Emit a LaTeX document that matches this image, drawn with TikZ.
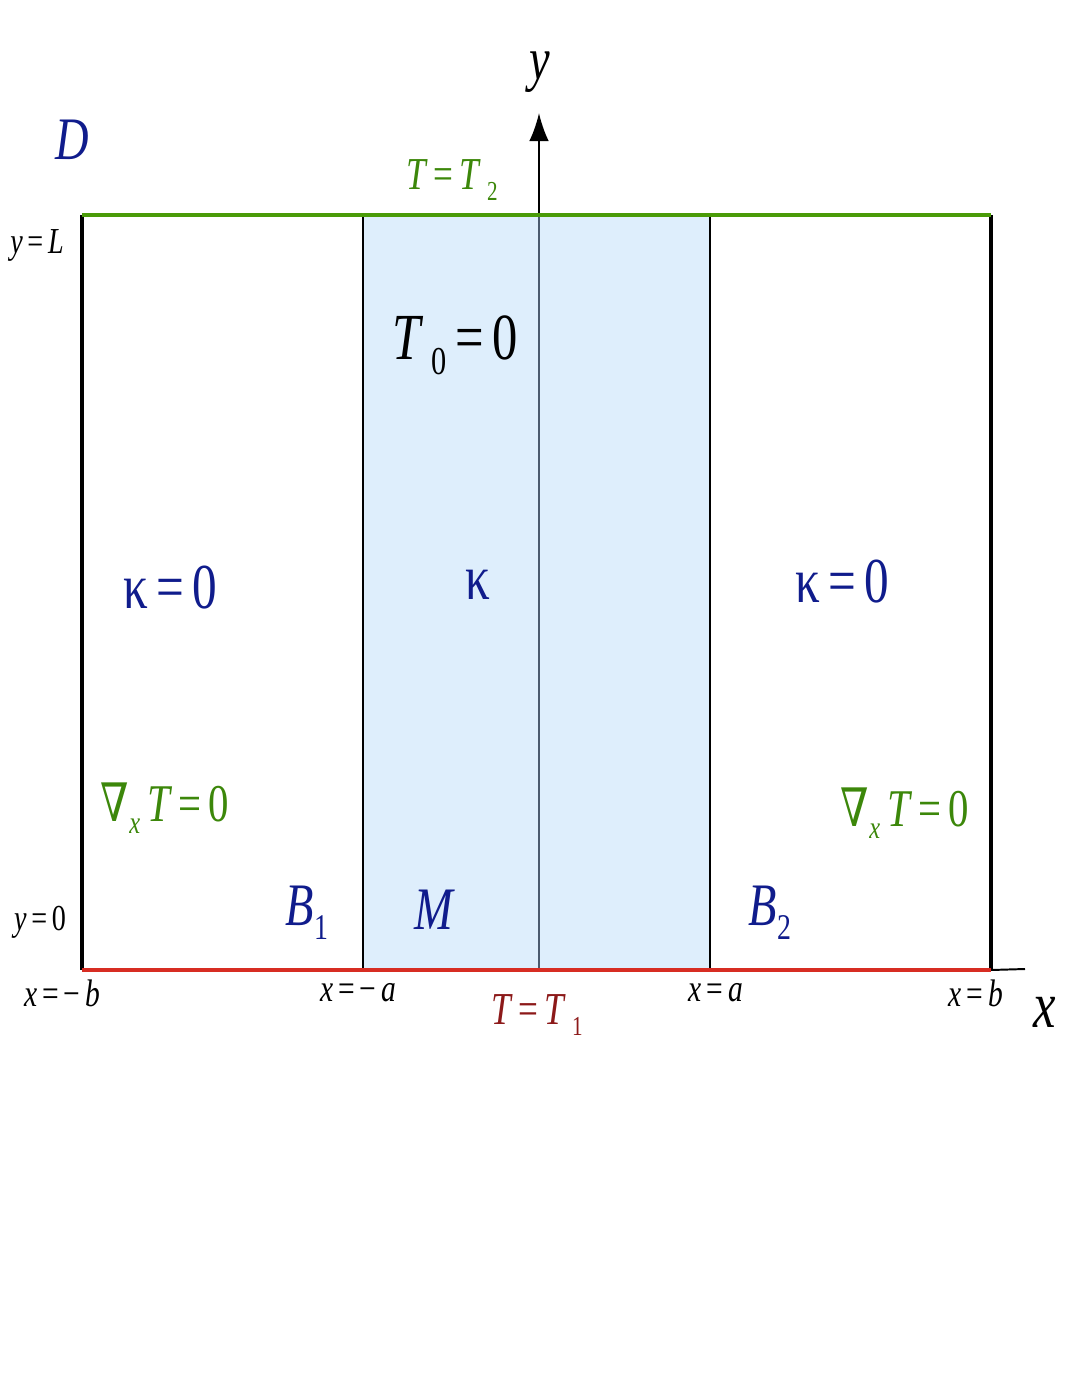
\documentclass[tikz,border=0pt]{standalone}
\usepackage{fontspec}
\usepackage{graphicx}
\newfontfamily\labelfont{Liberation Serif}
\newfontfamily\symfont{DejaVu Serif}
\usetikzlibrary{arrows.meta,positioning}

\definecolor{navy}{RGB}{16,28,140}
\definecolor{leaf}{RGB}{60,135,10}
\definecolor{leafline}{RGB}{74,155,8}
\definecolor{brick}{RGB}{140,25,25}
\definecolor{redline}{RGB}{215,45,35}
\definecolor{paleblue}{RGB}{222,238,252}
\definecolor{slate}{RGB}{75,90,110}

% tall glyphs and low subscripts as in the original drawing
\newcommand{\tall}[1]{\scalebox{1}[1.3]{#1}}
\newcommand{\lowsub}[1]{\raisebox{-0.5ex}{\scalebox{0.6}{#1}}}
\newcommand{\fs}[1]{\fontsize{#1}{#1}\labelfont\selectfont}
\newcommand{\grad}{{\symfont ∇}}

\begin{document}
\begin{tikzpicture}[
  x=0.025cm, y=-0.025cm,
  lbl/.style={inner sep=0pt},
  wall/.style={line width=2.8pt},
  rim/.style={line width=1.4pt},
  edge/.style={line width=2.8pt},
  axisline/.style={line width=1.5pt,-{Latex[length=20pt,width=14pt]}}
]
\useasboundingbox (0,0) rectangle (1080,1397);

% corners
\coordinate (tl) at (82,215);
\coordinate (tr) at (991,215);
\coordinate (bl) at (82,970);
\coordinate (br) at (991,970);
\coordinate (mtl) at (363,215);
\coordinate (mbl) at (363,970);
\coordinate (mtr) at (710,215);
\coordinate (mbr) at (710,970);
\coordinate (o) at (539,970);
\coordinate (otop) at (539,217);
\coordinate (ytip) at (539,113);
\coordinate (xend) at (1025,969);

% medium M
\fill[paleblue] (mtl) rectangle (mbr);
\draw[axisline] (o) -- (ytip);
\draw[slate,line width=1.5pt] (o) -- (otop);
\draw[rim] (mtl) -- (mbl);
\draw[rim] (mtr) -- (mbr);

% walls and boundaries
\draw[wall] (tl) -- (bl);
\draw[wall] (tr) -- (br);
\draw[rim] (br) -- (xend);
\draw[edge,leafline] (tl) -- (tr);
\draw[edge,redline] (bl) -- (br);

% labels
\node[lbl,navy,font=\fs{33}] (dom) at (72,140) {\tall{\textit{D}}};
\node[lbl,font=\fs{33}] (ylab) at (540,72) {\tall{\textit{y}}};
\node[lbl,font=\fs{36}] (xlab) at (1045,1012) {\tall{\textit{x}}};
\node[lbl,leaf,font=\fs{25}] (top) at (452,180) {\tall{\textit{T}\,=\,\textit{T}\,\lowsub{2}}};
\node[lbl,brick,font=\fs{25}] (bot) at (537,1015) {\tall{\textit{T}\,=\,\textit{T}\,\lowsub{1}}};
\node[lbl,font=\fs{20}] (yL) at (37,245) {\tall{\textit{y}\,=\,\textit{L}}};
\node[lbl,font=\fs{20}] (y0) at (40,922) {\tall{\textit{y}\,=\,0}};
\node[lbl,font=\fs{36}] (tzero) at (455,345) {\tall{\textit{T}\,\lowsub{0}\,=\,0}};
\node[lbl,navy,font=\fs{35}] (kl) at (170,588) {\tall{κ\,=\,0}};
\node[lbl,navy,font=\fs{35}] (km) at (478,585) {\tall{κ}};
\node[lbl,navy,font=\fs{35}] (kr) at (842,582) {\tall{κ\,=\,0}};
\node[lbl,leaf,font=\fs{29}] (gl) at (165,808) {\tall{\grad\lowsub{\textit{x}}\,\textit{T}\,=\,0}};
\node[lbl,leaf,font=\fs{29}] (gr) at (905,813) {\tall{\grad\lowsub{\textit{x}}\,\textit{T}\,=\,0}};
\node[lbl,navy,font=\fs{33}] (b1) at (307,913) {\tall{\textit{B}\lowsub{1}}};
\node[lbl,navy,font=\fs{33}] (med) at (435,910) {\tall{\textit{M}}};
\node[lbl,navy,font=\fs{33}] (b2) at (770,913) {\tall{\textit{B}\lowsub{2}}};
\node[lbl,font=\fs{21}] (xmb) at (62,993) {\tall{\textit{x}\,=\,−\,\textit{b}}};
\node[lbl,font=\fs{21}] (xma) at (358,993) {\tall{\textit{x}\,=\,−\,\textit{a}}};
\node[lbl,font=\fs{21}] (xpa) at (716,993) {\tall{\textit{x}\,=\,\textit{a}}};
\node[lbl,font=\fs{21}] (xpb) at (976,993) {\tall{\textit{x}\,=\,\textit{b}}};
\end{tikzpicture}
\end{document}
